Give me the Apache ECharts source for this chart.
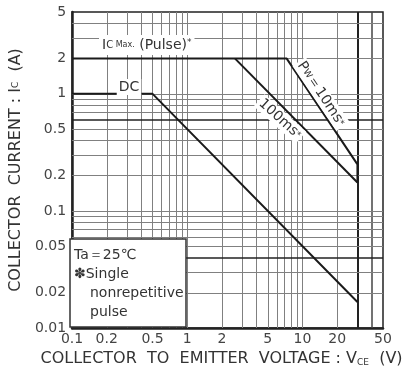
<!DOCTYPE html>
<html><head><meta charset="utf-8">
<script src="https://cdn.jsdelivr.net/npm/echarts@6.0.0/dist/echarts.min.js"></script>
<style>html,body{margin:0;padding:0;background:#fff}#c{width:409px;height:380px}</style>
</head><body><div id="c"></div>
<script>
// ---- data ----
const xTicks = [0.1, 0.2, 0.5, 1, 2, 5, 10, 20, 50];
const xTickLabels = ['0.1', '0.2', '0.5', '1', '2', '5', '10', '20', '50'];
const yTicks = [0.01, 0.02, 0.05, 0.1, 0.2, 0.5, 1, 2, 5];
const yTickLabels = ['0.01', '0.02', '0.05', '0.1', '0.2', '0.5', '1', '2', '5'];
const xGrid = [0.2, 0.3, 0.4, 0.5, 0.6, 0.7, 0.8, 0.9, 1, 2, 3, 4, 5, 6, 7, 8, 9, 10, 20];
const xGridBold = [30];
const xGridMid = [40];
const yGrid = [0.02, 0.03, 0.05, 0.06, 0.07, 0.08, 0.09, 0.1, 0.2, 0.3, 0.4, 0.5, 0.7, 0.8, 0.9, 1, 2, 3, 4];
const yGridBold = [0.04, 0.6];
const pw10msV = [0.1, 7.3, 30, 30];
const pw10msI = [2, 2, 0.25, 0.175];
const pw100msV = [2.6, 30];
const pw100msI = [2, 0.175];
const dcV = [0.1, 0.5, 30];
const dcI = [1, 1, 0.0167];

const zip = (a, b) => a.map((v, i) => [v, b[i]]);
function pick(v, ticks, labels) {
  let best = 0, d = Infinity;
  ticks.forEach((t, i) => { const e = Math.abs(Math.log10(v) - Math.log10(t)); if (e < d) { d = e; best = i; } });
  return labels[best];
}
const FONT = 'DejaVu Sans';
const TXT = '#333';
const chart = echarts.init(document.getElementById('c'), null, { renderer: 'canvas' });

const gridLines = []
  .concat(xGrid.map(v => ({ xAxis: v, lineStyle: { color: '#808080', width: 1, type: 'solid' } })))
  .concat(xGridBold.map(v => ({ xAxis: v, lineStyle: { color: '#222', width: 2, type: 'solid' } })))
  .concat(xGridMid.map(v => ({ xAxis: v, lineStyle: { color: '#444', width: 1.5, type: 'solid' } })))
  .concat(yGrid.map(v => ({ yAxis: v, lineStyle: { color: '#808080', width: 1, type: 'solid' } })))
  .concat(yGridBold.map(v => ({ yAxis: v, lineStyle: { color: '#222', width: 1.6, type: 'solid' } })));

const curveStyle = { color: '#1a1a1a', width: 2 };

chart.setOption({
  animation: false,
  backgroundColor: '#fff',
  grid: { left: 69, right: 26, top: 12, bottom: 52, show: true, borderColor: '#222', borderWidth: 1.5, backgroundColor: 'transparent' },
  xAxis: {
    type: 'log', logBase: 10, min: 0.1, max: 50,
    name: 'COLLECTOR  TO  EMITTER  VOLTAGE : V{s|CE}  (V)',
    nameLocation: 'middle', nameGap: 23,
    nameTextStyle: { fontFamily: FONT, fontSize: 16, color: TXT, padding: [0, 0, 0, -12], rich: { s: { fontSize: 9, fontFamily: FONT, color: TXT, verticalAlign: 'bottom', padding: [6, 0, 0, 0] } } },
    axisLine: { show: true, lineStyle: { color: '#222', width: 2.5 } },
    axisTick: { show: false, customValues: xTicks },
    splitLine: { show: false },
    axisLabel: { customValues: xTicks, fontFamily: FONT, fontSize: 14, color: '#444', margin: 4,
      formatter: v => pick(v, xTicks, xTickLabels) }
  },
  yAxis: {
    type: 'log', logBase: 10, min: 0.01, max: 5,
    name: 'COLLECTOR  CURRENT : I{s|C}  (A)',
    nameLocation: 'middle', nameGap: 33, nameRotate: 90,
    nameTextStyle: { fontFamily: FONT, fontSize: 16, color: TXT, rich: { s: { fontSize: 9, fontFamily: FONT, color: TXT } } },
    axisLine: { show: true, lineStyle: { color: '#222', width: 2.5 } },
    axisTick: { show: false, customValues: yTicks },
    splitLine: { show: false },
    axisLabel: { customValues: yTicks, fontFamily: FONT, fontSize: 14, color: '#444', margin: 6,
      formatter: v => pick(v, yTicks, yTickLabels) }
  },
  series: [
    { name: 'grid', type: 'line', data: [], silent: true, z: 1,
      markLine: { silent: true, symbol: ['none', 'none'], label: { show: false }, animation: false, data: gridLines } },
    { name: 'Pw=10ms', type: 'line', data: zip(pw10msV, pw10msI), symbol: 'none', lineStyle: curveStyle, z: 5 },
    { name: '100ms', type: 'line', data: zip(pw100msV, pw100msI), symbol: 'none', lineStyle: curveStyle, z: 5 },
    { name: 'DC', type: 'line', data: zip(dcV, dcI), symbol: 'none', lineStyle: curveStyle, z: 5 }
  ],
  graphic: [
    { type: 'rect', z: 100, shape: { x: 70, y: 239, width: 116, height: 88 }, style: { fill: '#fff', stroke: '#333', lineWidth: 1.5 } },
    { type: 'text', z: 101, x: 74, y: 255, style: { text: 'Ta＝25℃', font: '14px "DejaVu Sans"', fill: TXT, verticalAlign: 'middle' } },
    { type: 'text', z: 101, x: 74, y: 274, style: { text: '✽Single', font: '14px "DejaVu Sans"', fill: TXT, verticalAlign: 'middle' } },
    { type: 'text', z: 101, x: 90, y: 293, style: { text: 'nonrepetitive', font: '14px "DejaVu Sans"', fill: TXT, verticalAlign: 'middle' } },
    { type: 'text', z: 101, x: 90, y: 312, style: { text: 'pulse', font: '14px "DejaVu Sans"', fill: TXT, verticalAlign: 'middle' } },
    { type: 'text', z: 101, x: 99, y: 45, style: {
        text: 'I{s|C}{m| Max.} (Pulse){p|*}', font: '14px "DejaVu Sans"', fill: TXT, verticalAlign: 'middle',
        backgroundColor: '#fff', padding: [3, 3, 3, 3],
        rich: { s: { fontSize: 10, fontFamily: FONT, fill: TXT }, m: { fontSize: 8, fontFamily: FONT, fill: TXT }, p: { fontSize: 9, fontFamily: FONT, fill: TXT, verticalAlign: 'top' } } } },
    { type: 'text', z: 101, x: 129, y: 87, style: { text: 'DC', font: '14px "DejaVu Sans"', fill: TXT, align: 'center', verticalAlign: 'middle', backgroundColor: '#fff', padding: [1, 2, 1, 2] } },
    { type: 'text', z: 101, x: 321, y: 94, rotation: -56 * Math.PI / 180, style: {
        text: 'P{s|W}＝10ms{p|*}', font: '14px "DejaVu Sans"', fill: TXT, align: 'center', verticalAlign: 'middle',
        backgroundColor: '#fff', padding: [1, 2, 1, 2],
        rich: { s: { fontSize: 9, fontFamily: FONT, fill: TXT }, p: { fontSize: 9, fontFamily: FONT, fill: TXT } } } },
    { type: 'text', z: 101, x: 280, y: 119, rotation: -42 * Math.PI / 180, style: {
        text: '100ms{p|*}', font: '14px "DejaVu Sans"', fill: TXT, align: 'center', verticalAlign: 'middle',
        backgroundColor: '#fff', padding: [1, 2, 1, 2],
        rich: { p: { fontSize: 9, fontFamily: FONT, fill: TXT } } } }
  ]
});
</script></body></html>
